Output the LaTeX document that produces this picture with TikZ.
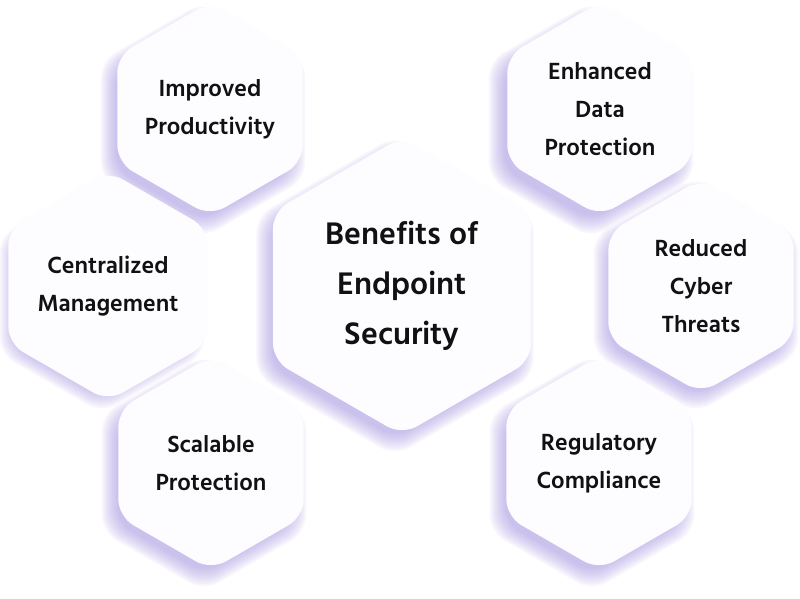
\documentclass[tikz,border=0pt]{standalone}
\usepackage{fontspec}
\setmainfont{Hind Siliguri SemiBold}
\usetikzlibrary{shapes.geometric}
\definecolor{shadowc}{HTML}{A293E4}
\definecolor{hexfill}{HTML}{FDFCFF}
\definecolor{txt}{HTML}{111111}
\begin{document}
\begin{tikzpicture}[x=1pt,y=-1pt,
  hexbase/.style={regular polygon, regular polygon sides=6, shape border rotate=30,
    rounded corners=17pt, inner sep=0pt, outer sep=0pt},
  hexa/.style={hexbase, fill=hexfill, text=txt, align=center,
    font=\fontsize{24}{38}\selectfont},
  bighex/.style={hexa, minimum size=298pt, font=\fontsize{32}{50}\selectfont},
  smallhex/.style={hexa, minimum size=214pt},
  hexshade/.style={hexbase, fill=shadowc, fill opacity=0.075, draw=none}]
\useasboundingbox[fill=white] (0,0) rectangle (800,598);
% shadows
\foreach \n/\x/\y/\r in {c/402/286/149, ip/210/110/107, ed/598/110/107,
  cm/109/285/107, rc/703/285/107, sp/211/463/107, rg/599/463/107}{
  \foreach \d in {22,18,14,10,6,2,-2,-6,-10,-14}{
    \node[hexshade, minimum size={2*\r+\d}] (s-\n-\d) at (\x-7,\y+10) {};
  }
}
% hexagons
\node[bighex] (c) at (402,286) {Benefits of\\Endpoint\\Security};
\node[smallhex] (ip) at (210,109) {Improved\\Productivity};
\node[smallhex] (ed) at (600,109) {Enhanced\\Data\\Protection};
\node[smallhex] (cm) at (108,286) {Centralized\\Management};
\node[smallhex] (rc) at (701,286) {Reduced\\Cyber\\ Threats};
\node[smallhex] (sp) at (211,463) {Scalable\\Protection};
\node[smallhex] (rg) at (599,463) {Regulatory\\Compliance};
\end{tikzpicture}
\end{document}
